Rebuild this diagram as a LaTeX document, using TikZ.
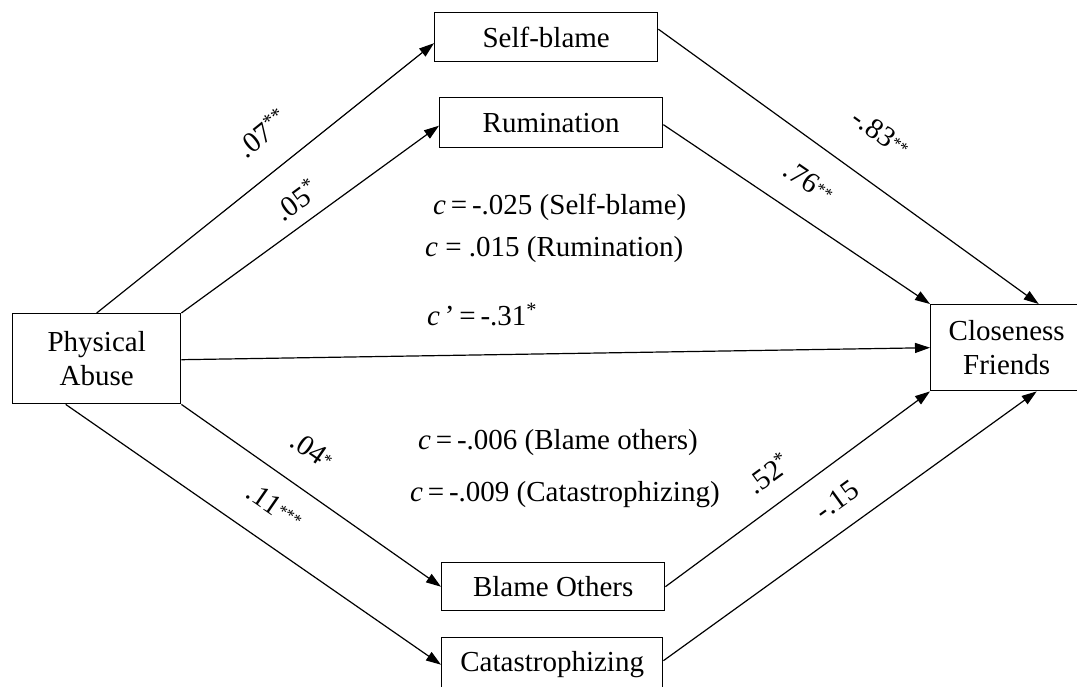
\documentclass[tikz,border=0pt]{standalone}
\usepackage{fontspec}
\setmainfont{Liberation Serif}
\usetikzlibrary{arrows.meta}
% small stars set at mid-height of the digits
\newcommand\midstars[1]{\raisebox{4pt}{\fontsize{17}{17}\selectfont #1}}
\begin{document}
\begin{tikzpicture}[x=1pt,y=-1pt,
  box/.style={draw, line width=1.4pt, inner sep=0pt, anchor=north west,
              font=\fontsize{29}{34}\selectfont, align=center},
  link/.style={line width=1.2pt, -{Triangle[length=15pt,width=10pt]}},
  coef/.style={font=\fontsize{29}{34}\selectfont, inner sep=0pt},
  ]
\useasboundingbox (0,0) rectangle (1077,686);

% variables
\node[box, minimum width=168pt, minimum height=90pt] (pa) at (12,313) {Physical\\Abuse};
\node[box, minimum width=223pt, minimum height=49pt] (sb) at (434,12) {Self-blame};
\node[box, minimum width=223pt, minimum height=50pt] (ru) at (439,97) {Rumination};
\node[box, minimum width=223pt, minimum height=48pt] (bo) at (441,562) {Blame Others};
\node[box, minimum width=221pt, minimum height=54pt] (ca) at (441,637) {Catastrophizing};
\node[box, minimum width=152pt, minimum height=86pt] (cf) at (930,304) {Closeness\\Friends};

% paths
\draw[link] (pa.north) -- ([yshift=-6pt]sb.west);
\draw[link] (pa.north east) -- ([yshift=-3pt]ru.west);
\draw[link] ([yshift=8pt]sb.east) -- ([xshift=32pt]cf.north);
\draw[link] ([yshift=-2pt]ru.east) -- (cf.north west);
\draw[link] ([yshift=-1pt]pa.east) -- (cf.west);
\draw[link] (pa.south east) -- (bo.west);
\draw[link] ([xshift=-31pt]pa.south) -- (ca.west);
\draw[link] (bo.east) -- (cf.south west);
\draw[link] ([yshift=4pt]ca.east) -- ([xshift=30pt]cf.south);

% path coefficients
\node[coef, rotate=38.8] (k1) at (262,133) {.07\textsuperscript{**}};
\node[coef, rotate=36.2] (k2) at (296,200) {.05\textsuperscript{*}};
\node[coef, rotate=-35.9] (k3) at (881,133) {-.83\midstars{**}};
\node[coef, rotate=-34.5] (k4) at (809,182) {.76\midstars{**}};
\node[coef, rotate=-34.7] (k5) at (312,450) {.04\midstars{*}};
\node[coef, rotate=-34.6] (k6) at (275,506) {.11\midstars{***}};
\node[coef, rotate=36] (k7) at (768,473) {.52\textsuperscript{*}};
\node[coef, rotate=35.9] (k8) at (837,500) {-.15};

% indirect and direct effects
\node[coef, anchor=west] (e1) at (433,207) {\textit{c}\,=\,-.025 (Self-blame)};
\node[coef, anchor=west] (e2) at (425,250) {\textit{c} = .015 (Rumination)};
\node[coef, anchor=west] (e3) at (427,315) {\textit{c}\,’\,=\,-.31\textsuperscript{*}};
\node[coef, anchor=west] (e4) at (418,443) {\textit{c}\,=\,-.006 (Blame others)};
\node[coef, anchor=west] (e5) at (410,495) {\textit{c}\,=\,-.009 (Catastrophizing)};
\end{tikzpicture}
\end{document}
